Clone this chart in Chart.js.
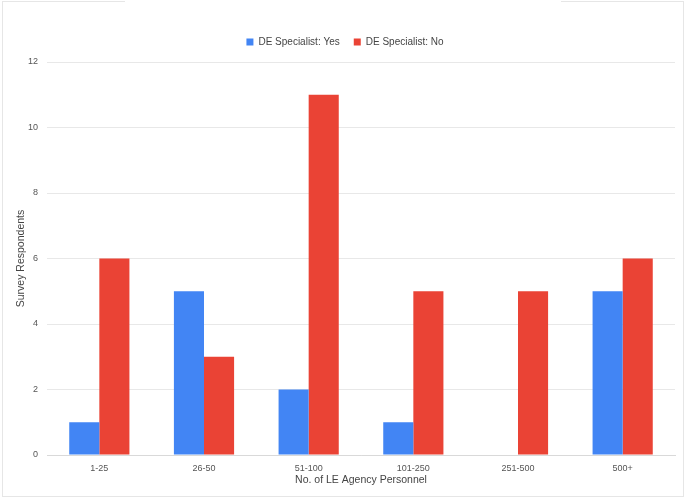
<!DOCTYPE html>
<html>
<head>
<meta charset="utf-8">
<script src="https://cdn.jsdelivr.net/npm/chart.js@4"></script>
<style>
  html, body { margin: 0; padding: 0; background: #fff; }
  #wrap { position: relative; width: 688px; height: 500px; }
  #frame { position: absolute; left: 2px; top: 1px; width: 682px; height: 496px; border: 1px solid #e6e6e6; border-top: none; box-sizing: border-box; }
  .topline { position: absolute; top: 1px; height: 1px; background: #e6e6e6; }
  canvas { position: absolute; left: 0; top: 0; }
</style>
</head>
<body>
<div id="wrap">
  <div id="frame"></div>
  <div class="topline" style="left:2px;width:123px"></div>
  <div class="topline" style="left:561px;width:123px"></div>
  <canvas id="chart" width="688" height="500"></canvas>
</div>
<script>
// Chart data
const categories = ['1-25', '26-50', '51-100', '101-250', '251-500', '500+'];
const specialistYes = [1, 5, 2, 1, 0, 5];
const specialistNo = [6, 3, 11, 5, 5, 6];

const FONT = "'Liberation Sans', Arial, sans-serif";

// Extra space under the legend
const legendGap = {
  id: 'legendGap',
  beforeInit(chart) {
    const fit = chart.legend.fit;
    chart.legend.fit = function () {
      fit.call(this);
      this.height += 5;
    };
  }
};

document.addEventListener('DOMContentLoaded', () => {
  const ctx = document.getElementById('chart').getContext('2d');
  new Chart(ctx, {
    type: 'bar',
    data: {
      labels: categories,
      datasets: [
        {
          label: 'DE Specialist: Yes',
          data: specialistYes,
          backgroundColor: '#4285F4',
          barPercentage: 1,
          categoryPercentage: 0.575
        },
        {
          label: 'DE Specialist: No',
          data: specialistNo,
          backgroundColor: '#EA4335',
          barPercentage: 1,
          categoryPercentage: 0.575
        }
      ]
    },
    options: {
      responsive: false,
      animation: false,
      layout: { padding: { left: 15, right: 13, top: 23, bottom: 14 } },
      plugins: {
        legend: {
          position: 'top',
          labels: {
            boxWidth: 7,
            boxHeight: 7,
            padding: 14,
            color: '#444',
            font: { family: FONT, size: 10 }
          }
        },
        tooltip: { enabled: false }
      },
      scales: {
        x: {
          grid: { display: false, drawTicks: false },
          border: { color: '#d9d9d9' },
          ticks: { color: '#555', font: { family: FONT, size: 9 }, padding: 8 },
          title: {
            display: true,
            text: 'No. of LE Agency Personnel',
            color: '#444',
            font: { family: FONT, size: 10.5 },
            padding: { top: 0, bottom: 0 }
          },
          afterFit: (scale) => { scale.height = 31; }
        },
        y: {
          min: 0,
          max: 12,
          ticks: { stepSize: 2, color: '#555', font: { family: FONT, size: 9 }, padding: 9 },
          grid: { color: '#e8e8e8', drawTicks: false },
          border: { display: false },
          title: {
            display: true,
            text: 'Survey Respondents',
            color: '#444',
            font: { family: FONT, size: 10.5 },
            padding: { top: 0, bottom: 0 }
          },
          afterFit: (scale) => { scale.width = 32; }
        }
      }
    },
    plugins: [legendGap]
  });
});
</script>
</body>
</html>
